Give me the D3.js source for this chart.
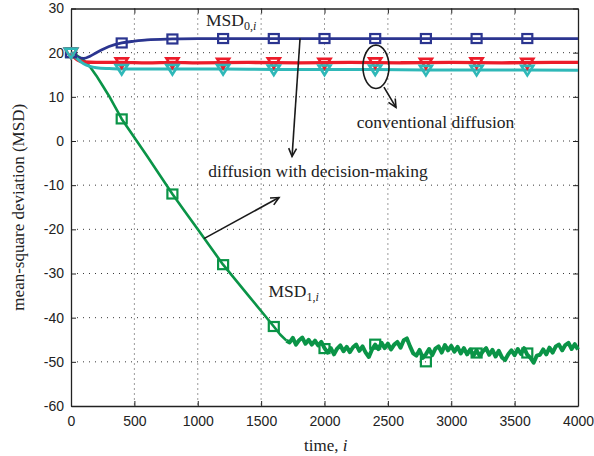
<!DOCTYPE html>
<html>
<head>
<meta charset="utf-8">
<script src="https://cdn.jsdelivr.net/npm/d3@7"></script>
<style>
  html, body { margin: 0; padding: 0; background: #fff; }
  svg { display: block; }
</style>
</head>
<body>
<div id="chart"></div>
<script>
// axis ticks
const xTicks = [0, 500, 1000, 1500, 2000, 2500, 3000, 3500, 4000];
const yTicks = [-60, -50, -40, -30, -20, -10, 0, 10, 20, 30];

// MSD_{0,i} (blue)
const blueTime = [0, 50, 100, 150, 200, 300, 400, 500, 600, 800, 1000, 1500, 2000, 4000];
const blueMsd  = [20, 19.0, 18.7, 19.2, 20.0, 21.4, 22.2, 22.6, 22.9, 23.1, 23.2, 23.2, 23.2, 23.2];

// conventional diffusion (red, cyan)
const redTime = [0, 25, 50, 100, 200, 400, 600, 800, 1000, 1400, 1800, 2200, 2600, 3000, 3400, 3800, 4000];
const redMsd  = [20, 19.0, 18.4, 17.9, 17.8, 17.8, 17.7, 17.8, 17.7, 17.8, 17.7, 17.8, 17.7, 17.8, 17.7, 17.8, 17.8];
const cyanTime = [0, 50, 100, 150, 200, 300, 400, 800, 1200, 1600, 2000, 2400, 2800, 3200, 3600, 4000];
const cyanMsd  = [20, 18.6, 17.5, 16.9, 16.6, 16.4, 16.3, 16.3, 16.3, 16.2, 16.2, 16.2, 16.1, 16.1, 16.1, 16.0];

// MSD_{1,i} (green)
const greenTime = [0, 50, 100, 150, 200, 250, 300, 350, 400, 500, 600, 700, 800, 900, 1000, 1100, 1200,
  1300, 1400, 1500, 1600, 1650, 1700,
  1725, 1750, 1775, 1800, 1825, 1850, 1875, 1900, 1925, 1950, 1975,
  2000, 2025, 2050, 2075, 2100, 2125, 2150, 2175, 2200, 2225, 2250, 2275, 2300, 2325, 2350, 2375,
  2400, 2425, 2450, 2475, 2500, 2525, 2550, 2575, 2600, 2625, 2650, 2675, 2700, 2725, 2750, 2775,
  2800, 2825, 2850, 2875, 2900, 2925, 2950, 2975, 3000, 3025, 3050, 3075, 3100, 3125, 3150, 3175,
  3200, 3225, 3250, 3275, 3300, 3325, 3350, 3375, 3400, 3425, 3450, 3475, 3500, 3525, 3550, 3575,
  3600, 3625, 3650, 3675, 3700, 3725, 3750, 3775, 3800, 3825, 3850, 3875, 3900, 3925, 3950, 3975, 4000];
const greenMsd = [20, 19.3, 18.3, 16.8, 14.8, 12.5, 10.2, 7.6, 5.0, 0.8, -3.4, -7.7, -12, -16, -20, -24, -28,
  -31.5, -35, -38.5, -42, -43.8, -45.2,
  -45.6, -44.6, -46.1, -45.1, -44.5, -45.9, -45.0, -46.1, -45.2, -46.3, -45.5,
  -46.9, -47.9, -46.9, -48.3, -47.0, -46.3, -47.6, -46.6, -47.8, -46.7, -46.1, -47.5, -46.5, -47.9, -48.9, -47.2,
  -46.1, -47.1, -45.7, -46.9, -45.9, -47.2, -46.1, -45.5, -46.8, -45.1, -44.7, -46.5, -48.1, -48.6, -47.3, -49.1,
  -48.3, -47.1, -48.5, -47.0, -46.5, -47.9, -46.2, -47.4, -46.4, -47.7, -46.6, -48.1, -46.9, -48.3, -47.2, -48.6,
  -47.4, -48.7, -47.6, -46.9, -48.4, -47.3, -48.8, -47.5, -49.0, -49.6, -48.3, -47.4, -48.5, -47.1, -48.2, -46.9,
  -48.4, -49.1, -50.2, -48.6, -48.4, -47.2, -48.3, -46.8, -47.9, -46.5, -46.1, -47.4, -46.2, -45.7, -47.1, -46.0, -47.2];
const greenSteady = 1700; // noisy steady state starts here

// marker positions
const markerTime = [0, 400, 800, 1200, 1600, 2000, 2400, 2800, 3200, 3600];
const blueMarks  = [20, 22.2, 23.1, 23.2, 23.2, 23.2, 23.2, 23.2, 23.2, 23.2];
const redMarks   = [20, 17.8, 17.8, 17.7, 17.8, 17.7, 17.8, 17.7, 17.8, 17.7];
const cyanMarks  = [20, 16.3, 16.3, 16.3, 16.2, 16.2, 16.2, 16.1, 16.1, 16.1];
const greenMarks = [20, 5.0, -12, -28, -42, -47, -46, -50, -48, -48];

const W = 594, H = 456;
const margin = { top: 8.5, right: 16, bottom: 50, left: 71 };
const iw = W - margin.left - margin.right;
const ih = H - margin.top - margin.bottom;

const colors = { blue: '#2b3590', red: '#ec1c2a', cyan: '#2fb8b8', green: '#0a9447' };

const svg = d3.select('#chart').append('svg').attr('width', W).attr('height', H);
const g = svg.append('g').attr('transform', `translate(${margin.left},${margin.top})`);

const x = d3.scaleLinear().domain([0, 4000]).range([0, iw]);
const y = d3.scaleLinear().domain([-60, 30]).range([ih, 0]);

// grid
g.append('g').selectAll('line').data(xTicks.slice(1, -1)).join('line')
  .attr('x1', d => x(d)).attr('x2', d => x(d)).attr('y1', 0).attr('y2', ih)
  .attr('stroke', '#222').attr('stroke-width', 0.9).attr('stroke-dasharray', '1,4');
g.append('g').selectAll('line').data(yTicks.slice(1, -1)).join('line')
  .attr('y1', d => y(d)).attr('y2', d => y(d)).attr('x1', 0).attr('x2', iw)
  .attr('stroke', '#222').attr('stroke-width', 0.9).attr('stroke-dasharray', '1,5');

// axes (MATLAB style: inward ticks on all sides)
const fontSans = '"Liberation Sans", Arial, Helvetica, sans-serif';
const fontSerif = '"Liberation Serif", "DejaVu Serif", serif';
const plain = d => String(d);

const xAxis = g.append('g').attr('transform', `translate(0,${ih})`)
  .call(d3.axisBottom(x).tickValues(xTicks).tickFormat(plain).tickSizeInner(-5).tickSizeOuter(0).tickPadding(10));
const yAxis = g.append('g')
  .call(d3.axisLeft(y).tickValues(yTicks).tickFormat(plain).tickSizeInner(-5).tickSizeOuter(0).tickPadding(7));
g.append('g').call(d3.axisTop(x).tickValues(xTicks).tickSizeInner(-5).tickSizeOuter(0).tickFormat(''));
g.append('g').attr('transform', `translate(${iw},0)`)
  .call(d3.axisRight(y).tickValues(yTicks).tickSizeInner(-5).tickSizeOuter(0).tickFormat(''));
svg.selectAll('.domain').attr('stroke', '#222').attr('stroke-width', 1.3);
svg.selectAll('.tick line').attr('stroke', '#222');
[xAxis, yAxis].forEach(a => a.selectAll('text')
  .attr('font-family', fontSans).attr('font-size', 14).attr('fill', '#222'));

// lines
const line = d3.line().x(d => x(d[0])).y(d => y(d[1]));
function series(t, v) { return t.map((d, i) => [d, v[i]]); }

const green = series(greenTime, greenMsd);
g.append('path').datum(green.filter(d => d[0] <= greenSteady))
  .attr('d', line).attr('fill', 'none').attr('stroke', colors.green)
  .attr('stroke-width', 2.6).attr('stroke-linejoin', 'round');
g.append('path').datum(green.filter(d => d[0] >= greenSteady))
  .attr('d', line).attr('fill', 'none').attr('stroke', colors.green)
  .attr('stroke-width', 4).attr('stroke-linejoin', 'round');
g.append('path').datum(series(blueTime, blueMsd))
  .attr('d', line.curve(d3.curveMonotoneX)).attr('fill', 'none').attr('stroke', colors.blue)
  .attr('stroke-width', 2.8);
g.append('path').datum(series(redTime, redMsd))
  .attr('d', line.curve(d3.curveMonotoneX)).attr('fill', 'none').attr('stroke', colors.red)
  .attr('stroke-width', 3.4);
g.append('path').datum(series(cyanTime, cyanMsd))
  .attr('d', line.curve(d3.curveMonotoneX)).attr('fill', 'none').attr('stroke', colors.cyan)
  .attr('stroke-width', 3);

// markers
function squares(vals, color) {
  g.append('g').selectAll('rect').data(series(markerTime, vals)).join('rect')
    .attr('x', d => x(d[0]) - 5).attr('y', d => y(d[1]) - 4.5)
    .attr('width', 10).attr('height', 9)
    .attr('fill', 'none').attr('stroke', color).attr('stroke-width', 2.2);
}
function triangles(vals, color) {
  g.append('g').selectAll('path').data(series(markerTime, vals)).join('path')
    .attr('transform', d => `translate(${x(d[0])},${y(d[1])})`)
    .attr('d', 'M-6,-4L6,-4L0,5.5Z')
    .attr('fill', 'none').attr('stroke', color).attr('stroke-width', 2.6)
    .attr('stroke-linejoin', 'miter');
}
squares(greenMarks, colors.green);
squares(blueMarks, colors.blue);
triangles(redMarks, colors.red);
triangles(cyanMarks, colors.cyan);

// annotations
const ann = g.append('g').attr('stroke', '#1a1a1a').attr('stroke-width', 1.6).attr('fill', 'none');
function arrow(t0, v0, t1, v1) {
  const x0 = x(t0), y0 = y(v0), x1 = x(t1), y1 = y(v1);
  const a = Math.atan2(y1 - y0, x1 - x0), L = 9, s = 0.45;
  ann.append('line').attr('x1', x0).attr('y1', y0).attr('x2', x1).attr('y2', y1);
  ann.append('path').attr('d',
    `M${x1 - L * Math.cos(a - s)},${y1 - L * Math.sin(a - s)}L${x1},${y1}L${x1 - L * Math.cos(a + s)},${y1 - L * Math.sin(a + s)}`);
}
arrow(1807, 23.2, 1744, -3.5);
arrow(1049, -22.1, 1641, -12.8);
arrow(2469, 12.2, 2564, 7.6);
ann.append('ellipse').attr('cx', x(2406)).attr('cy', y(16.8))
  .attr('rx', x(103) - x(0)).attr('ry', y(0) - y(4.9));

const txt = g.append('g').attr('font-family', fontSerif).attr('fill', '#222').attr('font-size', 17.5);
function msdLabel(t, v, sub) {
  const tx = txt.append('text').attr('x', x(t)).attr('y', y(v));
  tx.append('tspan').text('MSD');
  tx.append('tspan').attr('font-size', 12).attr('dy', 4).text(sub[0] + ',');
  tx.append('tspan').attr('font-size', 12).attr('font-style', 'italic').text(sub[1]);
}
msdLabel(1065, 26.1, ['0', 'i']);
msdLabel(1558, -35.3, ['1', 'i']);
txt.append('text').attr('x', x(2254)).attr('y', y(2.9)).text('conventional diffusion');
txt.append('text').attr('x', x(1083)).attr('y', y(-8.1)).text('diffusion with decision-making');

// axis titles
const xt = svg.append('text').attr('x', 304).attr('y', 451)
  .attr('font-family', fontSerif).attr('font-size', 17).attr('fill', '#222');
xt.append('tspan').text('time, ');
xt.append('tspan').attr('font-style', 'italic').text('i');
svg.append('text').attr('transform', `translate(24,${margin.top + ih / 2}) rotate(-90)`)
  .attr('text-anchor', 'middle').attr('font-family', fontSerif).attr('font-size', 17)
  .attr('fill', '#222').text('mean-square deviation (MSD)');
</script>
</body>
</html>
